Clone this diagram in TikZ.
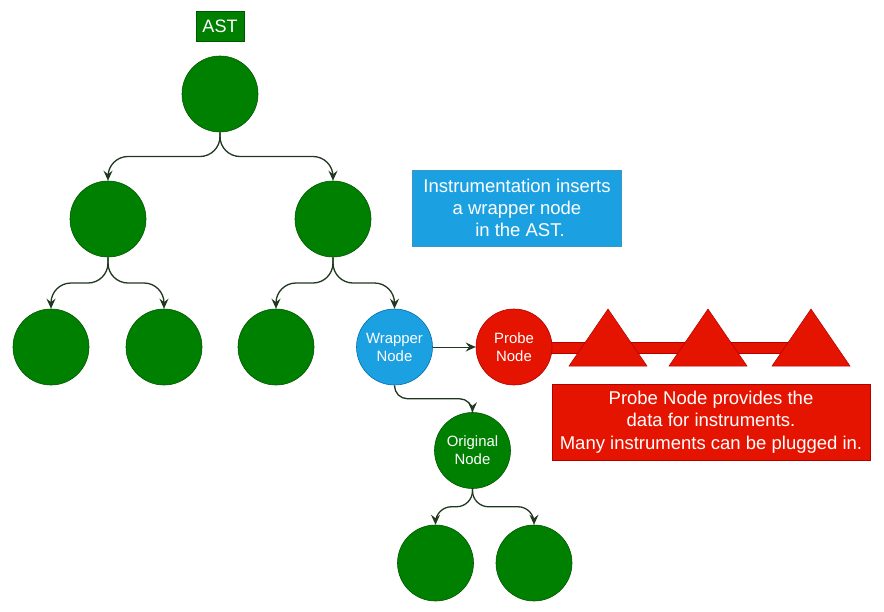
\documentclass[tikz,border=0pt]{standalone}
\usepackage{fontspec}
\setmainfont{Liberation Sans}
\usetikzlibrary{arrows.meta,calc}
\definecolor{grfill}{HTML}{008000}
\definecolor{grline}{HTML}{005700}
\definecolor{blfill}{HTML}{1BA1E2}
\definecolor{blline}{HTML}{006EAF}
\definecolor{rdfill}{HTML}{E51400}
\definecolor{rdline}{HTML}{B20000}
\definecolor{cn}{HTML}{203820}
\begin{document}
\begin{tikzpicture}[x=1pt,y=-1pt,
  circ/.style={circle,minimum size=76pt,inner sep=0pt,line width=0.6pt,text=white,align=center,font=\fontsize{14.9}{17.9}\selectfont},
  gnode/.style={circ,fill=grfill,draw=grline},
  bnode/.style={circ,fill=blfill,draw=blline},
  rnode/.style={circ,fill=rdfill,draw=rdline},
  astlabel/.style={rectangle,fill=grfill,draw=grline,line width=0.4pt,minimum width=48pt,minimum height=30pt,inner sep=0pt,text=white,font=\fontsize{18}{20}\selectfont},
  notebox/.style={rectangle,minimum height=76pt,inner sep=0pt,text=white,align=center,line width=0.5pt,font=\fontsize{18.5}{22.3}\selectfont},
  tri/.style={fill=rdfill,draw=rdline,line width=0.5pt},
  conn/.style={draw=cn,line width=1.3pt,-{Stealth[length=10pt,width=9pt,inset=3.5pt]},rounded corners=20pt},
]
\useasboundingbox (0,0) rectangle (884,611);
% bar behind probe
\fill[rdfill,draw=rdline,line width=0.4pt] (514,342) rectangle (811,353);

\node[astlabel] (ast) at (220,26) {AST};
\node[gnode] (root) at (220,94) {};
\node[gnode] (l) at (108,219) {};
\node[gnode] (r) at (333,219) {};
\node[gnode] (ll) at (51,347) {};
\node[gnode] (lr) at (164,347) {};
\node[gnode] (rl) at (276,347) {};
\node[bnode] (wrap) at (394.5,347) {Wrapper\\Node};
\node[rnode] (probe) at (514,347) {Probe\\Node};
\node[gnode] (orig) at (472.5,450.5) {Original\\Node};
\node[gnode] (bl) at (435.5,563) {};
\node[gnode] (br) at (534,563) {};

\filldraw[tri] (569,366) -- (608,309) -- (647,366) -- cycle;
\filldraw[tri] (669,366) -- (708,309) -- (747,366) -- cycle;
\filldraw[tri] (772,366) -- (811,309) -- (850,366) -- cycle;

\node[notebox,fill=blfill,draw=blfill!70!gray,minimum width=209pt] (note1) at (517,208) {Instrumentation inserts\\a wrapper node\\\hspace{6pt}in the AST.};
\node[notebox,fill=rdfill,draw=rdline,minimum width=318pt] (note2) at (711,422) {Probe Node provides the\\data for instruments.\\Many instruments can be plugged in.};

% mid heights of the connectors
\coordinate (m1) at ($(root.south)!.5!(l.north)$);
\coordinate (m2) at ($(l.south)!.5!(ll.north)$);
\coordinate (m3) at ($(r.south)!.5!(rl.north)$);
\coordinate (m4) at ($(wrap.south)!.5!(orig.north)$);
\coordinate (m5) at ($(orig.south)!.5!(bl.north)$);

\draw[conn] (root.south) -- (root.south |- m1) -- (l.north |- m1) -- (l.north);
\draw[conn] (root.south) -- (root.south |- m1) -- (r.north |- m1) -- (r.north);
\draw[conn] (l.south) -- (l.south |- m2) -- (ll.north |- m2) -- (ll.north);
\draw[conn] (l.south) -- (l.south |- m2) -- (lr.north |- m2) -- (lr.north);
\draw[conn] (r.south) -- (r.south |- m3) -- (rl.north |- m3) -- (rl.north);
\draw[conn] (r.south) -- (r.south |- m3) -- (wrap.north |- m3) -- (wrap.north);
\draw[conn,rounded corners=13pt] (wrap.south) -- (wrap.south |- m4) -- (orig.north |- m4) -- (orig.north);
\draw[conn,rounded corners=16pt] (orig.south) -- (orig.south |- m5) -- (bl.north |- m5) -- (bl.north);
\draw[conn,rounded corners=16pt] (orig.south) -- (orig.south |- m5) -- (br.north |- m5) -- (br.north);
\draw[conn,rounded corners=0pt,line width=1pt] (wrap.east) -- (probe.west);
\end{tikzpicture}
\end{document}
